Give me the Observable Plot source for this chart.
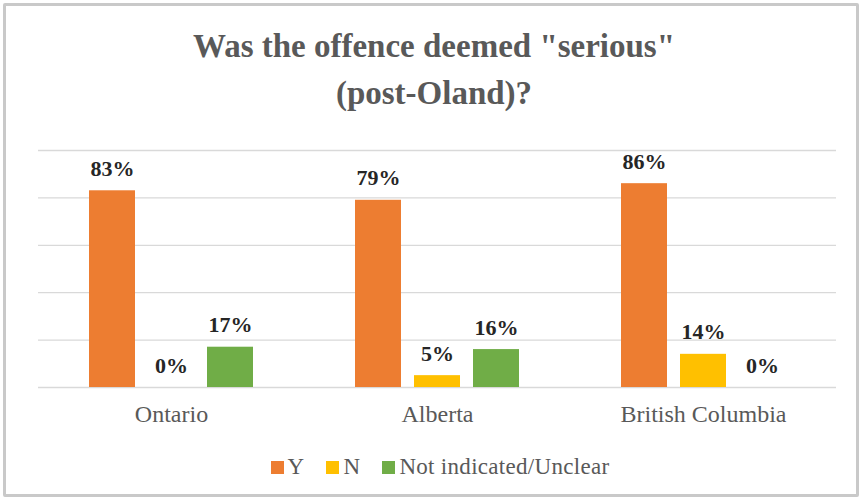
<!DOCTYPE html>
<html>
<head>
<meta charset="utf-8">
<script src="https://cdn.jsdelivr.net/npm/d3@7"></script>
<script src="https://cdn.jsdelivr.net/npm/@observablehq/plot@0.6"></script>
<style>
  html, body { margin: 0; padding: 0; background: #fff; }
  body { width: 862px; height: 504px; position: relative; overflow: hidden; font-family: "Liberation Serif", serif; }
  #frame { position: absolute; left: 3px; top: 3px; width: 850px; height: 488px; border: 3px solid #c9c9c9; border-radius: 2px; }
  #title { position: absolute; left: 0; width: 868px; top: 23px; text-align: center; font-size: 33px; font-weight: bold; color: #595959; line-height: 47px; }
  #chart { position: absolute; left: 0; top: 130px; }
  #legend { position: absolute; left: 0; width: 880px; top: 454px; display: flex; justify-content: center; gap: 22px; font-size: 23px; color: #595959; letter-spacing: 0.3px; }
  #legend .item { display: flex; align-items: center; gap: 4px; }
  #legend .sw { width: 13px; height: 13px; display: inline-block; }
</style>
</head>
<body>
<div id="frame"></div>
<div id="title">Was the offence deemed "serious"<br>(post-Oland)?</div>
<div id="chart"></div>
<div id="legend"></div>
<script>
const regions = ["Ontario", "Alberta", "British Columbia"];
const seriesNames = ["Y", "N", "Not indicated/Unclear"];
const seriesColors = ["#ED7D31", "#FFC000", "#70AD47"];
const yValues = [83, 79, 86];
const nValues = [0, 5, 14];
const unclearValues = [17, 16, 0];
const yTicks = [0, 20, 40, 60, 80, 100];

const seriesValues = [yValues, nValues, unclearValues];
const data = [];
regions.forEach((r, i) => {
  seriesNames.forEach((s, j) => {
    data.push({region: r, series: s, value: seriesValues[j][i]});
  });
});

const plot = Plot.plot({
  width: 862,
  height: 300,
  marginTop: 20,
  marginBottom: 43,
  marginLeft: 37,
  marginRight: 25,
  style: {fontFamily: "Liberation Serif, serif", background: "transparent"},
  fx: {domain: regions, paddingInner: 0, paddingOuter: 0},
  x: {domain: seriesNames, paddingInner: 0.227, paddingOuter: 0.855, axis: null},
  y: {domain: [0, 100], axis: null},
  color: {domain: seriesNames, range: seriesColors},
  marks: [
    Plot.ruleY(yTicks, {stroke: "#d9d9d9", strokeWidth: 1.3}),
    Plot.barY(data, {fx: "region", x: "series", y: "value", fill: "series"}),
    Plot.text(data, {fx: "region", x: "series", y: "value", text: d => d.value + "%", dy: -22, fontSize: 22, fontWeight: "bold", fill: "#262626"}),
    Plot.axisFx({anchor: "bottom", tickSize: 0, tickPadding: 17, label: null, fontSize: 24, color: "#595959"})
  ]
});
document.getElementById("chart").appendChild(plot);

const legend = document.getElementById("legend");
seriesNames.forEach((s, i) => {
  const item = document.createElement("span");
  item.className = "item";
  const sw = document.createElement("span");
  sw.className = "sw";
  sw.style.background = seriesColors[i];
  const t = document.createElement("span");
  t.textContent = s;
  item.appendChild(sw);
  item.appendChild(t);
  legend.appendChild(item);
});
</script>
</body>
</html>
